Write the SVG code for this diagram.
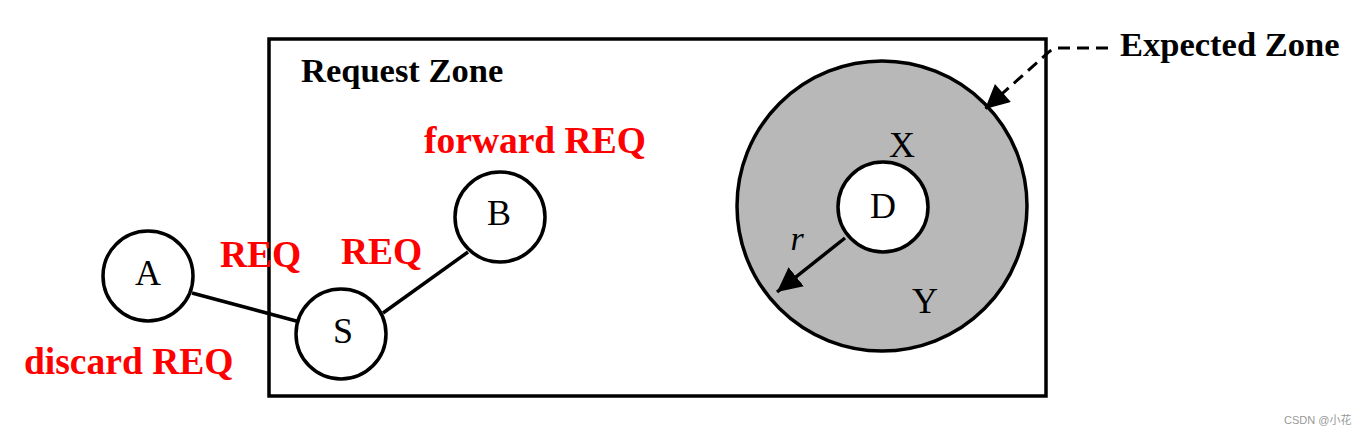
<svg xmlns="http://www.w3.org/2000/svg" width="1367" height="435" viewBox="0 0 1367 435">
<style>
.node{fill:#fff;stroke:#000;stroke-width:3.5}
.lbl{font-family:"Liberation Serif",serif;font-size:36px;fill:#000;text-anchor:middle}
.red{font-family:"Liberation Serif",serif;font-size:37.5px;font-weight:bold;fill:#ff0000}
.title{font-family:"Liberation Serif",serif;font-size:34.5px;font-weight:bold;fill:#000}
.edge{stroke:#000;stroke-width:3.5;fill:none}
</style>
<defs>
<marker id="ah" viewBox="0 0 10 10" refX="10" refY="5" markerWidth="7" markerHeight="7" markerUnits="strokeWidth" orient="auto">
<path d="M0,0 L10,5 L0,10 z" fill="#000"/>
</marker>
<marker id="ah2" viewBox="0 0 10 10" refX="10" refY="5" markerWidth="9" markerHeight="8" markerUnits="strokeWidth" orient="auto">
<path d="M0,0 L10,5 L0,10 z" fill="#000"/>
</marker>
</defs>
<rect width="1367" height="435" fill="#fff"/>
<g id="request-zone">
<rect x="269" y="39" width="777" height="357" fill="none" stroke="#000" stroke-width="3.5"/>
<text class="title" x="301" y="82">Request Zone</text>
</g>
<g id="expected-zone">
<circle cx="882" cy="206" r="145" fill="#b8b8b8" stroke="#000" stroke-width="3.5"/>
<text class="lbl" x="902" y="157">X</text>
<text class="lbl" x="925" y="313">Y</text>
<text x="797" y="250" style="font-family:'Liberation Serif',serif;font-size:34px;font-style:italic" text-anchor="middle">r</text>
</g>
<g id="expected-zone-label">
<text class="title" x="1120" y="56">Expected Zone</text>
</g>
<g id="connectors">
<line class="edge" x1="192" y1="293" x2="300" y2="322"/>
<line class="edge" x1="383" y1="313" x2="468" y2="252"/>
<line x1="845" y1="238" x2="777" y2="292" stroke="#000" stroke-width="3.5" marker-end="url(#ah)"/>
<path d="M1108,48 L1058,48 L1050,51 L985,109" fill="none" stroke="#000" stroke-width="3" stroke-dasharray="12,7" marker-end="url(#ah2)"/>
</g>
<g id="node-D">
<circle class="node" cx="883" cy="207" r="45"/>
<text class="lbl" x="883" y="218">D</text>
</g>
<g id="node-A">
<circle class="node" cx="148" cy="276" r="45"/>
<text class="lbl" x="148" y="285">A</text>
</g>
<g id="node-S">
<circle class="node" cx="341" cy="334" r="45"/>
<text class="lbl" x="343" y="343">S</text>
</g>
<g id="node-B">
<circle class="node" cx="500" cy="217" r="45"/>
<text class="lbl" x="499" y="225">B</text>
</g>
<g id="labels">
<text class="red" x="424" y="153">forward REQ</text>
<text class="red" x="220" y="267">REQ</text>
<text class="red" x="341" y="264">REQ</text>
<text class="red" x="24" y="374">discard REQ</text>
</g>
<text x="1284" y="424" style="font-family:'Liberation Sans','Noto Sans CJK SC',sans-serif;font-size:11px" fill="#999">CSDN @小花</text>
</svg>
